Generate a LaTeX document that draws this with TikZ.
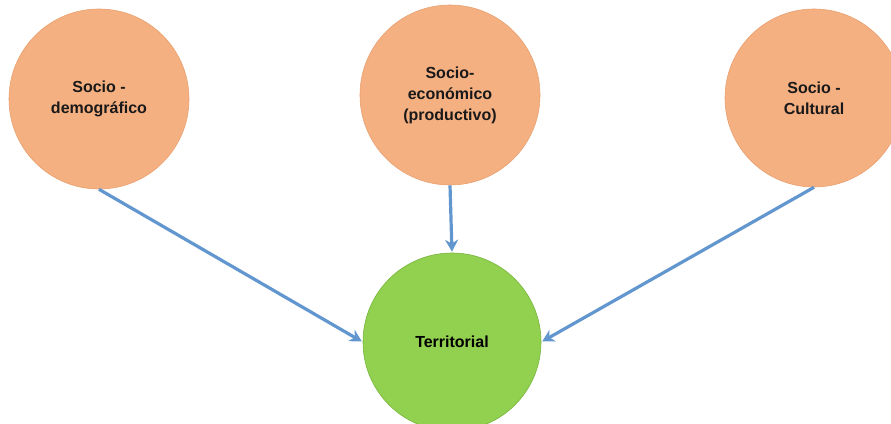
\documentclass[tikz,border=0pt]{standalone}
\usepackage{fontspec}
\setmainfont{Liberation Sans}
\usetikzlibrary{arrows.meta}
\definecolor{orangefill}{RGB}{245,176,129}
\definecolor{orangeedge}{RGB}{232,160,112}
\definecolor{greenfill}{RGB}{146,208,80}
\definecolor{greenedge}{RGB}{120,180,60}
\definecolor{arrowblue}{RGB}{98,150,206}
\tikzset{
  factor/.style={circle, fill=orangefill, draw=orangeedge, line width=0.6pt, minimum size=180pt, inner sep=0pt,
    align=center, font=\fontsize{16}{21}\selectfont\bfseries, text=black!90},
  target/.style={circle, fill=greenfill, draw=greenedge, line width=0.6pt, minimum size=178pt, inner sep=0pt,
    align=center, font=\fontsize{16}{21}\selectfont\bfseries, text=black},
  link/.style={draw=arrowblue, line width=3.2pt, -{Stealth[length=12pt,width=13pt]}, shorten >=1pt}
}
\begin{document}
\begin{tikzpicture}[x=1pt,y=1pt]
\useasboundingbox (0,0) rectangle (891,423);
\node[factor] (demo) at (99,324) {Socio -\\demográfico};
\node[factor] (eco) at (450,328) {Socio-\\económico\\(productivo)};
\node[factor, minimum size=178pt] (cult) at (814,325) {Socio -\\Cultural};
\node[target] (terr) at (452,81) {Territorial};
\draw[link] (demo.south) -- (terr.west);
\draw[link] (eco.south) -- (terr.north);
\draw[link] (cult.south) -- (terr.east);
\end{tikzpicture}
\end{document}
